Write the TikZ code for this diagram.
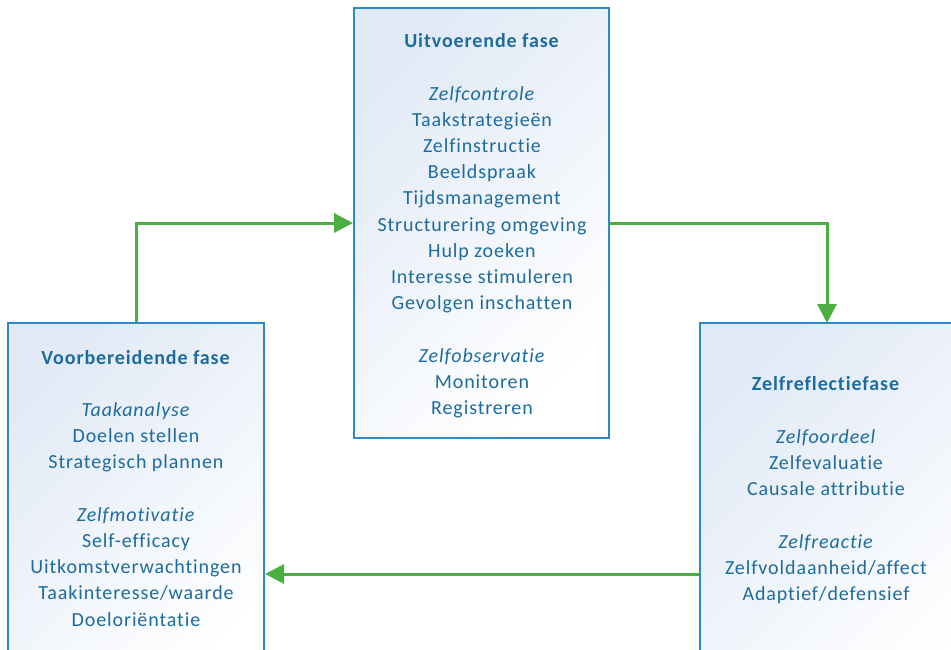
\documentclass[tikz,border=0pt]{standalone}
\usepackage{fontspec}
\setmainfont{Carlito}[LetterSpace=4.5, Ligatures={NoCommon}]
\usetikzlibrary{arrows.meta}
\definecolor{txt}{RGB}{28,108,158}
\definecolor{edge}{RGB}{41,139,200}
\definecolor{tint}{RGB}{226,234,246}
\definecolor{grn}{RGB}{74,175,64}
\tikzset{
  phasebox/.style={draw=edge, line width=2pt, shading=axis, left color=tint, right color=white, shading angle=45, inner sep=0pt},
  phasetext/.style={text=txt, align=center, anchor=base, inner sep=0pt, font=\fontsize{20}{26.2}\selectfont},
  flow/.style={draw=grn, line width=3pt, -{Triangle[length=19pt,width=19pt]}}
}
\begin{document}
\begin{tikzpicture}[x=1pt,y=-1pt]
\useasboundingbox (0,0) rectangle (951,650);
\clip (0,0) rectangle (951,650);
\node[phasebox, minimum width=255pt, minimum height=430pt] (mid) at (481.5,223) {};
\node[phasebox, minimum width=256pt, minimum height=377pt] (left) at (136,511.5) {};
\node[phasebox, minimum width=300pt, minimum height=377pt] (right) at (850,511.5) {};
\node[phasetext] (midtext) at (482,414.5) {\textbf{Uitvoerende fase}\\[26.2pt]
\textit{Zelfcontrole}\\ Taakstrategieën\\ Zelfinstructie\\ Beeldspraak\\ Tijdsmanagement\\ Structurering omgeving\\ Hulp zoeken\\ Interesse stimuleren\\ Gevolgen inschatten\\[26.2pt]
\textit{Zelfobservatie}\\ Monitoren\\ Registreren};
\node[phasetext] (lefttext) at (136,626) {\textbf{Voorbereidende fase}\\[26.2pt]
\textit{Taakanalyse}\\ Doelen stellen\\ Strategisch plannen\\[26.2pt]
\textit{Zelfmotivatie}\\ Self-efficacy\\ Uitkomstverwachtingen\\ Taakinteresse/waarde\\ Doeloriëntatie};
\node[phasetext] (righttext) at (826,600.5) {\textbf{Zelfreflectiefase}\\[26.2pt]
\textit{Zelfoordeel}\\ Zelfevaluatie\\ Causale attributie\\[26.2pt]
\textit{Zelfreactie}\\ Zelfvoldaanheid/affect\\ Adaptief/defensief};
\coordinate (rtop) at (827,323);
\coordinate (lvl) at (0,574);
\draw[flow] (left.north) |- (mid.west);
\draw[flow] (mid.east) -| (rtop);
\draw[flow] (right.west |- lvl) -- (left.east |- lvl);
\end{tikzpicture}
\end{document}
